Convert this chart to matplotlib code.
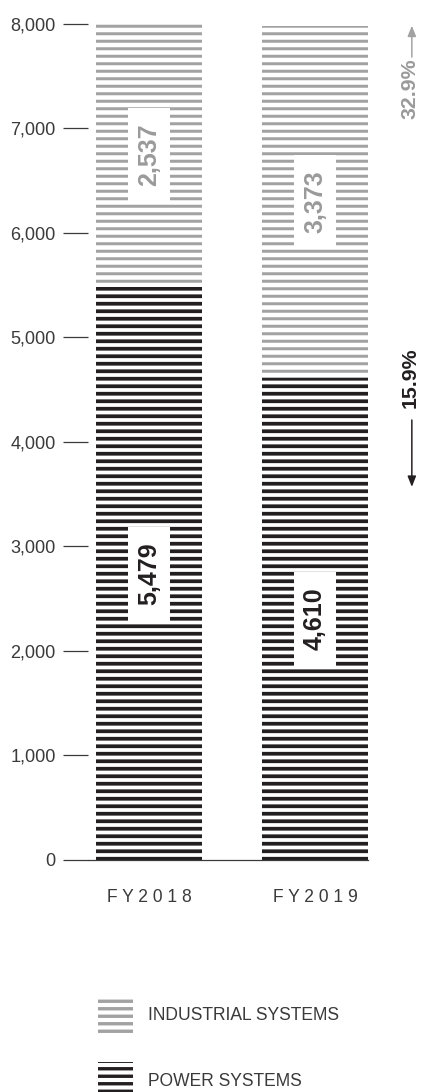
import matplotlib
matplotlib.use("Agg")
import matplotlib.pyplot as plt
from matplotlib.path import Path
from matplotlib.patches import Patch
import numpy as np

years = ["FY2018", "FY2019"]
power_systems = [5479, 4610]
industrial_systems = [2537, 3373]
change_pct = {"industrial": 32.9, "power": -15.9}
y_ticks = [0, 1000, 2000, 3000, 4000, 5000, 6000, 7000, 8000]

GREY = "#a2a2a2"
GREY_TXT = "#9a9a9a"
BLACK = "#231f20"
DARK = "#3a3a3a"

plt.rcParams.update({
    "font.family": ["Liberation Sans", "DejaVu Sans"],
    "hatch.linewidth": 2.7,
})

DPI = 90
fig = plt.figure(figsize=(421 / DPI, 1092 / DPI), dpi=DPI)
ax = fig.add_axes([88 / 421, 232 / 1092, 280 / 421, 857 / 1092])


def label_box(x0, y0, width, height, mutation_size):
    # wider padding along the text than across it
    px, py = 0.62 * mutation_size, 0.36 * mutation_size
    return Path([(x0 - px, y0 - py), (x0 + width + px, y0 - py),
                 (x0 + width + px, y0 + height + py), (x0 - px, y0 + height + py),
                 (x0 - px, y0 - py)], closed=True)


def stripes(bars, lw):
    for b in bars:
        if hasattr(b, "set_hatch_linewidth"):
            b.set_hatch_linewidth(lw)


x = np.arange(len(years))
w = 0.64
with plt.rc_context({"hatch.linewidth": 3.0}):
    pw = ax.bar(x, power_systems, w, facecolor="white", edgecolor=BLACK,
                linewidth=0, hatch="--")
stripes(pw, 3.0)
with plt.rc_context({"hatch.linewidth": 2.4}):
    ind = ax.bar(x, industrial_systems, w, bottom=power_systems, facecolor="white",
                 edgecolor=GREY, linewidth=0, hatch="--")
stripes(ind, 2.4)

for i in range(len(years)):
    p, s = power_systems[i], industrial_systems[i]
    ax.text(x[i], p / 2, f"{p:,}", rotation=90, ha="center", va="center",
            fontsize=20, fontweight="bold", color=BLACK,
            bbox=dict(boxstyle=label_box, facecolor="white", edgecolor="none"))
    ax.text(x[i], p + s / 2, f"{s:,}", rotation=90, ha="center", va="center",
            fontsize=20, fontweight="bold", color=GREY_TXT,
            bbox=dict(boxstyle=label_box, facecolor="white", edgecolor="none"))

# year-on-year change, right of the chart
total19 = power_systems[1] + industrial_systems[1]
xr = 1.573
head = "-|>,head_length=0.7,head_width=0.28"

ax.annotate(f"{abs(change_pct['industrial']):.1f}%", xy=(xr, total19), xytext=(0, -33),
            textcoords="offset pixels", rotation=90, ha="center", va="top",
            fontsize=17, fontweight="bold", color=GREY_TXT, annotation_clip=False)
ax.annotate("", xy=(xr + 0.01, total19), xytext=(xr + 0.01, total19 - 300),
            arrowprops=dict(arrowstyle=head, color=GREY, lw=1.2, shrinkA=0, shrinkB=0),
            annotation_clip=False)

ax.text(xr, power_systems[1], f"{abs(change_pct['power']):.1f}%", rotation=90,
        ha="center", va="center", fontsize=17, fontweight="bold", color=BLACK,
        clip_on=False)
ax.annotate("", xy=(xr + 0.01, power_systems[1] - 1040),
            xytext=(xr + 0.01, power_systems[1] - 400),
            arrowprops=dict(arrowstyle=head, color=BLACK, lw=1.2, shrinkA=0, shrinkB=0),
            annotation_clip=False)

ax.set_xlim(-0.367, 1.319)
ax.set_ylim(0, 8200)
ax.set_yticks(y_ticks)
ax.set_yticklabels([f"{t:,}" for t in y_ticks])
ax.set_xticks(x)
ax.set_xticklabels([" ".join(y) for y in years])

for s in ["top", "right", "left"]:
    ax.spines[s].set_visible(False)
ax.spines["bottom"].set_color(DARK)
ax.spines["bottom"].set_linewidth(1.0)

ax.tick_params(axis="y", length=20, width=1.0, color=DARK, pad=6,
               labelsize=14.5, labelcolor=DARK)
ax.tick_params(axis="x", length=0, pad=23, labelsize=14, labelcolor=DARK)

handles = [Patch(facecolor="white", edgecolor=GREY, linewidth=0, hatch="--",
                 label="INDUSTRIAL SYSTEMS"),
           Patch(facecolor="white", edgecolor=BLACK, linewidth=0, hatch="--",
                 label="POWER SYSTEMS")]
leg = fig.legend(handles=handles, loc="upper left", bbox_to_anchor=(98 / 421, 96 / 1092),
                 frameon=False, fontsize=14, handlelength=2.0, handleheight=2.9,
                 handletextpad=0.85, labelspacing=1.65, borderpad=0, borderaxespad=0)
for t in leg.get_texts():
    t.set_color(DARK)

fig.savefig("out.png", dpi=DPI)
